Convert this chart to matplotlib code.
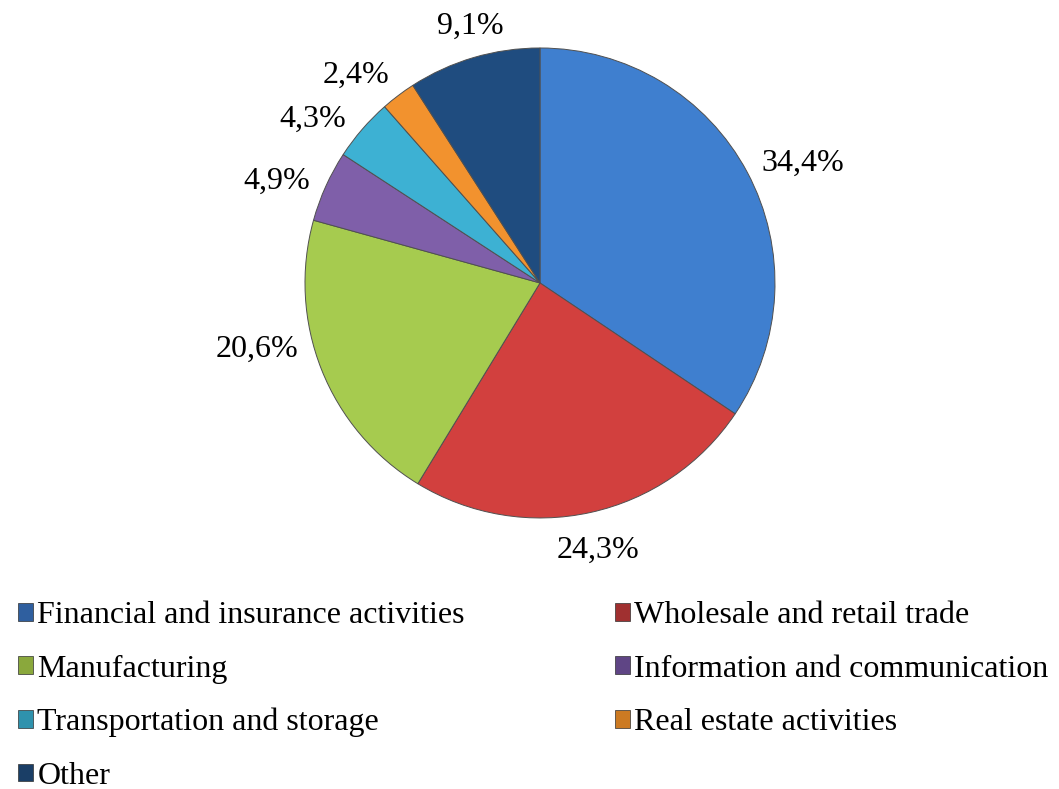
import numpy as np
import matplotlib
import matplotlib.pyplot as plt
from matplotlib.patches import Patch

matplotlib.use('Agg')
plt.rcParams['font.family'] = ['Liberation Serif', 'DejaVu Serif']

categories = ['Financial and insurance activities', 'Wholesale and retail trade',
              'Manufacturing', 'Information and communication',
              'Transportation and storage', 'Real estate activities', 'Other']
shares = [34.4, 24.3, 20.6, 4.9, 4.3, 2.4, 9.1]
colors = ['#3F7FCF', '#D2403E', '#A6CB4F', '#7F5FA9', '#3DB1D3', '#F2922E', '#1F4C7F']
legend_colors = ['#2F5F9F', '#A03030', '#8AA83C', '#5F4585', '#2F92AD', '#CC7A22', '#1A3E66']
# small angular nudges (deg) so labels sit like the "best fit" placement
label_nudge = [-3, 0, -9, 2.5, 4.5, 4, -1.3]

fig = plt.figure(figsize=(10.59, 7.89), dpi=100)
ax = fig.add_axes([0.288, 0.3435, 0.4438, 0.5957])

wedges, texts = ax.pie(
    shares, colors=colors, startangle=90, counterclock=False,
    wedgeprops=dict(edgecolor='#505050', linewidth=0.7))
ax.set_xlim(-1, 1)
ax.set_ylim(-1, 1)
ax.set_aspect('equal')

# labels outside the pie, pushed out just far enough to clear the edge
fig.canvas.draw()
renderer = fig.canvas.get_renderer()
px_per_unit = ax.bbox.width / 2
for w, s, nudge in zip(wedges, shares, label_nudge):
    ang = np.deg2rad((w.theta1 + w.theta2) / 2 + nudge)
    t = ax.text(0, 0, f'{s:.1f}%'.replace('.', ','), fontsize=23,
                ha='center', va='center_baseline')
    bb = t.get_window_extent(renderer)
    hw = bb.width / 2 / px_per_unit
    hh = bb.height / 2 / px_per_unit
    d = 1.05 + abs(hw * np.cos(ang)) + abs(hh * np.sin(ang))
    t.set_position((d * np.cos(ang), d * np.sin(ang)))

# legend is filled column-wise, so reorder to read row by row
order = [0, 2, 4, 6, 1, 3, 5]
handles = [Patch(facecolor=legend_colors[i], edgecolor='#303030', linewidth=0.5) for i in order]
labels = [categories[i] for i in order]
fig.legend(handles, labels, loc='upper left', bbox_to_anchor=(0.002, 0.258),
           ncol=2, frameon=False, fontsize=23, handlelength=0.48, handleheight=0.48,
           handletextpad=0.12, labelspacing=0.76, columnspacing=4.7, borderpad=0)

fig.savefig('out.png', dpi=100)
